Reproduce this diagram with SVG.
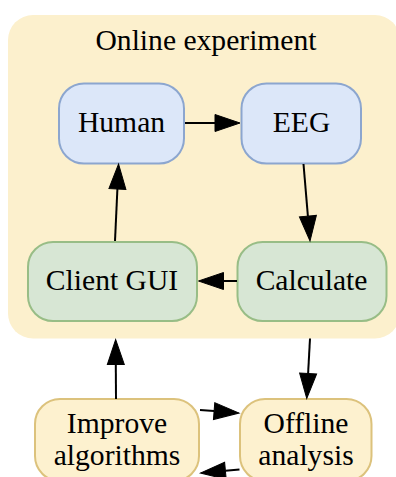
<svg xmlns="http://www.w3.org/2000/svg" width="396" height="477" viewBox="0 0 396 477">
  <defs>
    <style>
      text { font-family: "Liberation Serif", "Times New Roman", serif; font-size: 29.6px; fill: #000; text-anchor: middle; }
      .blue { fill: #dce7f9; stroke: #8ca6cf; stroke-width: 2; }
      .green { fill: #d7e6d4; stroke: #98bd86; stroke-width: 2; }
      .yellow { fill: #fdf1cf; stroke: #dcc27c; stroke-width: 2; }
      .edge { fill: none; stroke: #000; stroke-width: 2; }
    </style>
    <marker id="arrow" markerUnits="userSpaceOnUse" markerWidth="30" markerHeight="20" refX="0" refY="0" viewBox="0 -10 30 20" orient="auto" overflow="visible">
      <path d="M0,-8.5 L25,0 L0,8.5 z" fill="#000" stroke="#000" stroke-width="1"/>
    </marker>
  </defs>

  <!-- cluster: online experiment -->
  <g id="cluster-online">
    <rect x="8" y="15" width="392" height="323.5" rx="25" ry="25" fill="#fcf0cd"/>
    <text x="206" y="49.5">Online experiment</text>
  </g>

  <g id="node-human">
    <rect class="blue" x="59" y="83.5" width="125" height="80" rx="25" ry="25"/>
    <text x="121.5" y="132">Human</text>
  </g>
  <g id="node-eeg">
    <rect class="blue" x="241.5" y="83.5" width="119.5" height="80" rx="25" ry="25"/>
    <text x="301.5" y="132">EEG</text>
  </g>
  <g id="node-client-gui">
    <rect class="green" x="28" y="242" width="169" height="79" rx="25" ry="25"/>
    <text x="112" y="289.5">Client GUI</text>
  </g>
  <g id="node-calculate">
    <rect class="green" x="237.5" y="242" width="149" height="79" rx="25" ry="25"/>
    <text x="311.5" y="289.5">Calculate</text>
  </g>
  <g id="node-improve">
    <rect class="yellow" x="35" y="399" width="164" height="82" rx="25" ry="25"/>
    <text x="117" y="433">Improve</text>
    <text x="117" y="465">algorithms</text>
  </g>
  <g id="node-offline">
    <rect class="yellow" x="240" y="399" width="131.5" height="82" rx="25" ry="25"/>
    <text x="306" y="433">Offline</text>
    <text x="306" y="465">analysis</text>
  </g>

  <!-- connectors -->
  <g id="edges">
    <path class="edge" d="M185,123 L215,123" marker-end="url(#arrow)"/>
    <path class="edge" d="M303.5,164 L307.9,216.1" marker-end="url(#arrow)"/>
    <path class="edge" d="M237,281 L223.5,281" marker-end="url(#arrow)"/>
    <path class="edge" d="M115,241 L117.4,189" marker-end="url(#arrow)"/>
    <path class="edge" d="M116,399 L115.8,364.5" marker-end="url(#arrow)"/>
    <path class="edge" d="M310,338.5 L308.1,373.5" marker-end="url(#arrow)"/>
    <path class="edge" d="M200,410 L214.1,411.1" marker-end="url(#arrow)"/>
    <path class="edge" d="M239.5,469.5 L225.4,470.8" marker-end="url(#arrow)"/>
  </g>
</svg>
